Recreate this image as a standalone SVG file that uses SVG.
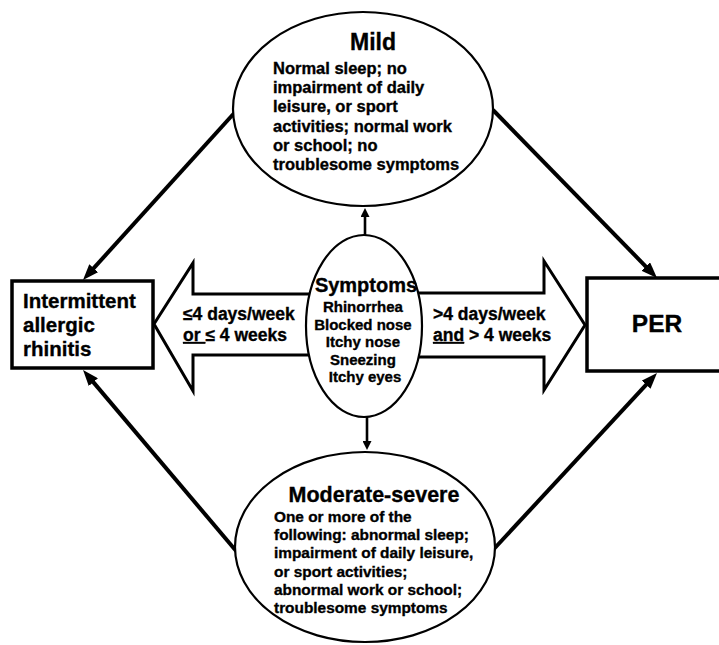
<svg xmlns="http://www.w3.org/2000/svg" width="719" height="645" viewBox="0 0 719 645">
<style>
text{font-family:"Liberation Sans",Arial,sans-serif;font-weight:bold;fill:#000;stroke:#000;stroke-width:0.35}
.ell{fill:#fff;stroke:#000;stroke-width:2.2}
.box{fill:#fff;stroke:#000;stroke-width:3.5}
.blk{fill:#fff;stroke:#000;stroke-width:3;stroke-linejoin:miter}
.thick{stroke:#000;stroke-width:4;fill:none}
.thin{stroke:#000;stroke-width:2.6;fill:none}
.ul{text-decoration:underline}
</style>
<defs>
<marker id="ah" markerUnits="userSpaceOnUse" markerWidth="16" markerHeight="12" refX="6" refY="6" orient="auto">
<path d="M0,0 L16,6 L0,12 z" fill="#000"/>
</marker>
<marker id="as" markerUnits="userSpaceOnUse" markerWidth="9" markerHeight="9" refX="3" refY="4.5" orient="auto">
<path d="M0,0 L9,4.5 L0,9 z" fill="#000"/>
</marker>
</defs>

<g id="arrow-left-block">
<polygon class="blk" points="154,324 193,263 193,294 340,294 340,355 193,355 193,391"/>
<text x="183" y="320" font-size="17.5">≤4 days/week</text>
<text x="183" y="341" font-size="17.5"><tspan class="ul">or </tspan>≤ 4 weeks</text>
</g>
<g id="arrow-right-block">
<polygon class="blk" points="390,293 544,293 544,261 585,325 544,390 544,357 390,357"/>
<text x="433" y="320" font-size="17.5">&gt;4 days/week</text>
<text x="433" y="341" font-size="17.5"><tspan class="ul">and</tspan> &gt; 4 weeks</text>
</g>

<g id="connectors">
<line class="thick" x1="237" y1="110" x2="89.7" y2="272.6" marker-end="url(#ah)"/>
<line class="thick" x1="493" y1="110" x2="650" y2="270.8" marker-end="url(#ah)"/>
<line class="thick" x1="237" y1="552" x2="89.5" y2="377.6" marker-end="url(#ah)"/>
<line class="thick" x1="493" y1="550" x2="650.2" y2="380.3" marker-end="url(#ah)"/>
<line class="thin" x1="365" y1="235" x2="365" y2="214" marker-end="url(#as)"/>
<line class="thin" x1="367" y1="416" x2="367" y2="444" marker-end="url(#as)"/>
</g>

<g id="mild">
<ellipse class="ell" cx="363" cy="109" rx="130" ry="97"/>
<text x="373" y="50" font-size="23" text-anchor="middle">Mild</text>
<text x="273" font-size="16.5">
<tspan x="273" y="74">Normal sleep; no</tspan>
<tspan x="273" y="93.2">impairment of daily</tspan>
<tspan x="273" y="112.4">leisure, or sport</tspan>
<tspan x="273" y="131.6">activities; normal work</tspan>
<tspan x="273" y="150.8">or school; no</tspan>
<tspan x="273" y="170">troublesome symptoms</tspan>
</text>
</g>

<g id="symptoms">
<ellipse class="ell" cx="364" cy="326" rx="58" ry="91"/>
<text x="366" y="292" font-size="20" text-anchor="middle">Symptoms</text>
<text font-size="15" text-anchor="middle">
<tspan x="365" y="312">Rhinorrhea</tspan>
<tspan x="365" y="329.5">Blocked nose</tspan>
<tspan x="365" y="347">Itchy nose</tspan>
<tspan x="365" y="364.5">Sneezing</tspan>
<tspan x="365" y="382">Itchy eyes</tspan>
</text>
</g>

<g id="moderate-severe">
<ellipse class="ell" cx="365" cy="547" rx="130" ry="95"/>
<text x="374" y="502" font-size="21.5" text-anchor="middle">Moderate-severe</text>
<text font-size="15.4">
<tspan x="274" y="522">One or more of the</tspan>
<tspan x="274" y="540.2">following: abnormal sleep;</tspan>
<tspan x="274" y="558.4">impairment of daily leisure,</tspan>
<tspan x="274" y="576.6">or sport activities;</tspan>
<tspan x="274" y="594.8">abnormal work or school;</tspan>
<tspan x="274" y="613">troublesome symptoms</tspan>
</text>
</g>

<g id="intermittent">
<rect class="box" x="12" y="281" width="141" height="87"/>
<text font-size="20.5">
<tspan x="23" y="308">Intermittent</tspan>
<tspan x="23" y="332">allergic</tspan>
<tspan x="23" y="356">rhinitis</tspan>
</text>
</g>

<g id="per">
<rect class="box" x="587" y="278" width="140" height="93"/>
<text x="657" y="332" font-size="24.5" text-anchor="middle">PER</text>
</g>
</svg>
